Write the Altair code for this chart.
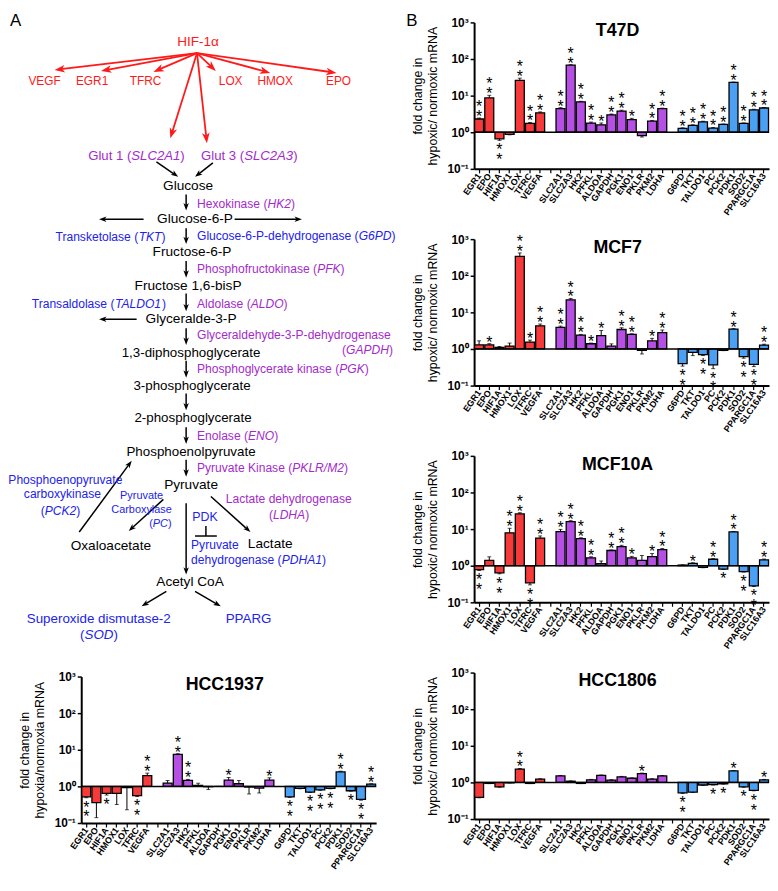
import math
import altair as alt
import pandas as pd

FONT = "Liberation Sans"

# ---------------- data ----------------
genes_red = ["EGR1", "EPO", "HIF1A", "HMOX1", "LOX", "TFRC", "VEGFA"]
genes_purple = ["SLC2A1", "SLC2A3", "HK2", "PFKL", "ALDOA", "GAPDH", "PGK1", "ENO1", "PKLR", "PKM2", "LDHA"]
genes_blue = ["G6PD", "TKT", "TALDO1", "PC", "PCK2", "PDK1", "SOD2", "PPARGC1A", "SLC16A3"]
slots = genes_red + ["_g1"] + genes_purple + ["_g2"] + genes_blue

t47d_val = [2.3, 8.7, 0.66, 0.87, 26, 1.75, 3.4, 4.4, 68, 6.8, 1.78, 1.6, 3.0, 3.8, 2.2, 0.81, 2.0, 4.4,
            1.28, 1.54, 1.93, 1.3, 1.64, 23, 1.75, 4.1, 4.6]
t47d_err = [2.45, 10.2, 0.6, 0.85, 30, 1.85, 3.6, 4.7, 70, 7.0, 1.9, 1.8, 3.15, 4.0, 2.4, 0.74, 2.1, 4.55,
            1.32, 1.6, 2.0, 1.35, 1.68, 23.5, 1.8, 4.25, 4.75]
t47d_sig = ["**", "**", "**", "", "**", "**", "**", "**", "**", "**", "**", "*", "**", "**", "*", "", "**", "**",
            "**", "**", "**", "**", "**", "**", "**", "**", "**"]

mcf7_val = [1.3, 1.3, 1.1, 1.2, 340, 1.54, 4.3, 3.9, 22, 2.4, 1.39, 2.3, 1.2, 3.4, 2.5, 0.92, 1.67, 2.8,
            0.40, 0.81, 0.70, 0.37, 0.92, 3.5, 0.62, 0.38, 1.28]
mcf7_err = [1.67, 1.4, 1.17, 1.45, 420, 1.75, 4.8, 4.2, 24, 2.5, 1.45, 3.2, 1.38, 3.8, 2.6, 0.73, 1.95, 3.3,
            0.34, 0.66, 0.66, 0.29, 0.9, 3.6, 0.56, 0.33, 1.35]
mcf7_sig = ["", "*", "", "", "**", "*", "**", "**", "**", "**", "*", "*", "", "**", "**", "", "*", "**",
            "**", "", "**", "**", "", "**", "**", "**", "**"]

mcf10a_val = [0.78, 1.39, 0.64, 7.9, 26, 0.34, 5.7, 8.5, 16, 5.5, 1.64, 1.13, 2.6, 3.3, 1.64, 1.39, 1.78, 2.75,
              1.04, 1.15, 0.9, 1.5, 0.81, 8.4, 0.69, 0.28, 1.45]
mcf10a_err = [0.74, 1.75, 0.6, 10.5, 28, 0.3, 6.5, 9.8, 17, 5.8, 1.75, 1.35, 2.7, 3.6, 1.8, 1.9, 2.15, 2.95,
              1.06, 1.2, 0.88, 1.56, 0.79, 8.6, 0.67, 0.27, 1.52]
mcf10a_sig = ["**", "", "**", "**", "**", "**", "**", "**", "**", "**", "**", "", "**", "**", "*", "", "*", "**",
              "", "*", "", "**", "*", "**", "**", "**", "**"]

hcc1806_val = [0.39, 0.94, 0.76, 0.98, 2.3, 0.94, 1.23, 1.5, 1.08, 0.94, 1.18, 1.55, 1.16, 1.42, 1.3, 1.75, 1.23, 1.5,
               0.52, 0.54, 0.85, 0.87, 0.92, 2.07, 0.76, 0.61, 1.18]
hcc1806_err = [0.38, 0.93, 0.74, 0.97, 2.4, 0.93, 1.26, 1.55, 1.1, 0.93, 1.21, 1.6, 1.19, 1.46, 1.33, 1.8, 1.26, 1.54,
               0.5, 0.53, 0.83, 0.85, 0.9, 2.12, 0.74, 0.59, 1.21]
hcc1806_sig = ["", "", "", "", "**", "", "", "", "", "", "", "", "", "", "", "*", "", "",
               "**", "", "", "*", "*", "*", "*", "**", "*"]

hcc1937_val = [0.52, 0.36, 0.64, 0.64, 0.92, 0.56, 1.97, 1.23, 7.5, 1.45, 1.06, 0.98, 1.0, 1.48, 1.18, 0.96, 0.9, 1.48,
               0.52, 0.88, 0.70, 0.80, 0.88, 2.5, 0.76, 0.44, 1.15]
hcc1937_err = [0.49, 0.14, 0.58, 0.32, 0.23, 0.53, 2.3, 1.45, 7.8, 1.55, 1.22, 0.82, 1.0, 1.75, 1.45, 0.62, 0.66, 1.72,
               0.5, 0.86, 0.68, 0.78, 0.86, 2.6, 0.74, 0.42, 1.18]
hcc1937_sig = ["**", "", "*", "", "", "**", "**", "", "**", "**", "", "", "", "*", "", "", "", "*",
               "**", "", "**", "**", "**", "**", "*", "**", "**"]

BAR_COLORS = ["#F63A3A", "#B64FE4", "#4BA0F3"]

# ---------------- pathway diagram content ----------------
DCOL = {"k": "#000000", "r": "#FF1A1A", "p": "#A32BCB", "b": "#2222EE"}

# (x, y, align, font size, colour, [(text, italic)])
diagram_labels = [
    (10, 17, "left", 17, "k", [("A", 0)]),
    (200, 38, "center", 13.7, "r", [("HIF-1α", 0)]),
    (45, 77, "center", 12, "r", [("VEGF", 0)]),
    (93, 77, "center", 12, "r", [("EGR1", 0)]),
    (147, 77, "center", 12, "r", [("TFRC", 0)]),
    (233, 77, "center", 12, "r", [("LOX", 0)]),
    (278, 77, "center", 12, "r", [("HMOX", 0)]),
    (342, 77, "center", 12, "r", [("EPO", 0)]),
    (89, 153, "left", 13.3, "p", [("Glut 1 (", 0), ("SLC2A1", 1), (")", 0)]),
    (203, 153, "left", 13.3, "p", [("Glut 3 (", 0), ("SLC2A3", 1), (")", 0)]),
    (190, 183, "center", 13.8, "k", [("Glucose", 0)]),
    (199, 202, "left", 12.2, "p", [("Hexokinase (", 0), ("HK2", 1), (")", 0)]),
    (197, 217, "center", 13.8, "k", [("Glucose-6-P", 0)]),
    (56, 235, "left", 12.2, "b", [("Transketolase (", 0), ("TKT", 1), (")", 0)]),
    (199, 234, "left", 12.2, "b", [("Glucose-6-P-dehydrogenase (", 0), ("G6PD", 1), (")", 0)]),
    (194, 250, "center", 13.8, "k", [("Fructose-6-P", 0)]),
    (199, 267, "left", 12.2, "p", [("Phosphofructokinase (", 0), ("PFK", 1), (")", 0)]),
    (190, 284, "center", 13.8, "k", [("Fructose 1,6-bisP", 0)]),
    (32, 303, "left", 12.2, "b", [("Transaldolase (", 0), ("TALDO1", 1), (")", 0)]),
    (199, 303, "left", 12.2, "p", [("Aldolase (", 0), ("ALDO", 1), (")", 0)]),
    (193, 318, "center", 13.8, "k", [("Glyceralde-3-P", 0)]),
    (199, 334, "left", 12.2, "p", [("Glyceraldehyde-3-P-dehydrogenase", 0)]),
    (397, 349, "right", 12.2, "p", [("(", 0), ("GAPDH", 1), (")", 0)]),
    (193, 352, "center", 13.5, "k", [("1,3-diphosphoglycerate", 0)]),
    (199, 368, "left", 12.2, "p", [("Phosphoglycerate kinase (", 0), ("PGK", 1), (")", 0)]),
    (194, 385, "center", 13.5, "k", [("3-phosphoglycerate", 0)]),
    (195, 418, "center", 13.5, "k", [("2-phosphoglycerate", 0)]),
    (199, 436, "left", 12.2, "p", [("Enolase (", 0), ("ENO", 1), (")", 0)]),
    (193, 452, "center", 13.5, "k", [("Phosphoenolpyruvate", 0)]),
    (199, 468, "left", 12.2, "p", [("Pyruvate Kinase (", 0), ("PKLR/M2", 1), (")", 0)]),
    (193, 485, "center", 13.8, "k", [("Pyruvate", 0)]),
    (66, 480, "center", 12.2, "b", [("Phosphoenopyruvate", 0)]),
    (63, 495, "center", 12.2, "b", [("carboxykinase", 0)]),
    (61, 512, "center", 12.2, "b", [("(", 0), ("PCK2", 1), (")", 0)]),
    (143, 497, "center", 11, "b", [("Pyruvate", 0)]),
    (143, 511, "center", 11, "b", [("Carboxylase", 0)]),
    (162, 525, "center", 11, "b", [("(", 0), ("PC", 1), (")", 0)]),
    (112, 547, "center", 13.8, "k", [("Oxaloacetate", 0)]),
    (228, 500, "left", 12.2, "p", [("Lactate dehydrogenase", 0)]),
    (292, 516, "center", 12.2, "p", [("(", 0), ("LDHA", 1), (")", 0)]),
    (273, 545, "center", 13.8, "k", [("Lactate", 0)]),
    (207, 518, "center", 12.5, "b", [("PDK", 0)]),
    (193, 546, "left", 12.2, "b", [("Pyruvate", 0)]),
    (193, 561, "left", 12.2, "b", [("dehydrogenase (", 0), ("PDHA1", 1), (")", 0)]),
    (192, 584, "center", 13.8, "k", [("Acetyl CoA", 0)]),
    (27, 621, "left", 13.5, "b", [("Superoxide dismutase-2", 0)]),
    (100, 637, "center", 13.5, "b", [("(", 0), ("SOD", 1), (")", 0)]),
    (228, 621, "left", 13.5, "b", [("PPARG", 0)]),
]

# (x1, y1, x2, y2, colour, width, head)
diagram_arrows = [
    (199, 49, 55, 66, "r", 1.8, 1), (199, 49, 102, 67, "r", 1.8, 1), (199, 49, 155, 68, "r", 1.8, 1),
    (199, 49, 218, 67, "r", 1.8, 1), (199, 49, 273, 69, "r", 1.8, 1), (199, 49, 340, 69, "r", 1.8, 1),
    (199, 49, 172, 135, "r", 1.8, 1), (199, 49, 209, 140, "r", 1.8, 1),
    (158, 159, 180, 174, "k", 1.5, 1), (215, 160, 197, 174, "k", 1.5, 1),
    (188, 192, 188, 208, "k", 1.5, 1),
    (145, 217, 100, 217, "k", 1.5, 1), (237, 217, 305, 217, "k", 1.5, 1),
    (188, 226, 188, 242, "k", 1.5, 1),
    (188, 259, 188, 276, "k", 1.5, 1),
    (188, 292, 188, 310, "k", 1.5, 1),
    (138, 318, 100, 318, "k", 1.5, 1),
    (188, 327, 188, 344, "k", 1.5, 1),
    (188, 360, 188, 377, "k", 1.5, 1),
    (188, 393, 188, 410, "k", 1.5, 1),
    (188, 427, 188, 444, "k", 1.5, 1),
    (188, 460, 188, 477, "k", 1.5, 1),
    (80, 533, 133, 461, "k", 1.5, 1),
    (165, 500, 130, 532, "k", 1.5, 1),
    (213, 497, 253, 533, "k", 1.5, 1),
    (188, 504, 188, 576, "k", 1.5, 1),
    (168, 593, 143, 608, "k", 1.5, 1),
    (197, 593, 223, 608, "k", 1.5, 1),
    (208, 527, 208, 537, "k", 1.5, 0),
    (197, 537, 219, 537, "k", 1.5, 0),
]

# Arial / Liberation Sans advance widths (per 1000 em) for positioning mixed-style labels
AW = {" ": 278, "(": 333, ")": 333, "-": 333, ",": 278, ".": 278, "/": 278, "α": 578}
AW.update({d: 556 for d in "0123456789"})
AW.update(dict(zip("ABCDEFGHIJKLMNOPQRSTUVWXYZ",
                   [667, 667, 722, 722, 667, 611, 778, 722, 278, 500, 667, 556, 833, 722, 778, 667, 778, 722, 667,
                    611, 722, 667, 944, 667, 667, 611])))
AW.update(dict(zip("abcdefghijklmnopqrstuvwxyz",
                   [556, 556, 500, 556, 556, 278, 556, 556, 222, 222, 500, 222, 833, 556, 556, 556, 556, 333, 500,
                    278, 556, 500, 722, 500, 500, 500])))


def tw(s, size):
    return sum(AW.get(ch, 556) for ch in s) * size / 1000.0


text_rows = []
for (x, y, align, size, col, segs) in diagram_labels:
    total = sum(tw(t, size) for t, _ in segs)
    cur = x if align == "left" else (x - total / 2 if align == "center" else x - total)
    for t, it in segs:
        text_rows.append({"x": cur, "y": y, "t": t, "s": size, "c": DCOL[col], "it": it})
        cur += tw(t, size)
df_text = pd.DataFrame(text_rows)

line_rows, head_rows = [], []
for (x1, y1, x2, y2, col, w, head) in diagram_arrows:
    dx, dy = x2 - x1, y2 - y1
    L = math.hypot(dx, dy)
    ux, uy = dx / L, dy / L
    r = 7.0 if col == "r" else 5.0
    back = 0.9 * r if head else 0.0
    line_rows.append({"x": x1, "y": y1, "x2": x2 - ux * back, "y2": y2 - uy * back, "c": DCOL[col], "w": w})
    if head:
        ang = math.degrees(math.atan2(dx, -dy)) % 360
        head_rows.append({"x": x2, "y": y2, "a": ang, "c": DCOL[col], "s": (2 * r) ** 2})
df_lines = pd.DataFrame(line_rows)
df_heads = pd.DataFrame(head_rows)

DW, DH = 372, 640
Y0 = 18  # page y of the diagram's top edge (row is aligned with the right column)
dxs = alt.Scale(domain=[8, 8 + DW], nice=False, zero=False)
dys = alt.Scale(domain=[Y0, Y0 + DH], nice=False, zero=False, reverse=True)
ARROW = "M0,0L-0.55,1.5L0,1.1L0.55,1.5Z"

d_lines = alt.Chart(df_lines).mark_rule().encode(
    x=alt.X("x:Q", scale=dxs, axis=None), y=alt.Y("y:Q", scale=dys, axis=None),
    x2="x2:Q", y2="y2:Q",
    color=alt.Color("c:N", scale=None), size=alt.Size("w:Q", scale=None))
d_heads = alt.Chart(df_heads).mark_point(filled=True, opacity=1, shape=ARROW, strokeWidth=0).encode(
    x=alt.X("x:Q", scale=dxs, axis=None), y=alt.Y("y:Q", scale=dys, axis=None),
    angle=alt.Angle("a:Q", scale=None),
    color=alt.Color("c:N", scale=None), size=alt.Size("s:Q", scale=None))
d_text = alt.Chart(df_text).transform_filter("datum.it == 0").mark_text(align="left", baseline="middle").encode(
    x=alt.X("x:Q", scale=dxs, axis=None), y=alt.Y("y:Q", scale=dys, axis=None),
    text="t:N", color=alt.Color("c:N", scale=None), size=alt.Size("s:Q", scale=None))
d_ital = alt.Chart(df_text).transform_filter("datum.it == 1").mark_text(
    align="left", baseline="middle", fontStyle="italic").encode(
    x=alt.X("x:Q", scale=dxs, axis=None), y=alt.Y("y:Q", scale=dys, axis=None),
    text="t:N", color=alt.Color("c:N", scale=None), size=alt.Size("s:Q", scale=None))
diagram = alt.layer(d_lines, d_heads, d_text, d_ital).properties(width=DW, height=DH)

# ---------------- bar panels ----------------
PW, PH = 298, 148
YLAB = ("datum.value < 0.5 ? '10⁻¹' : datum.value < 5 ? '10⁰' : datum.value < 50 ? '10¹' : "
        "datum.value < 500 ? '10²' : '10³'")


def panel(name, vals, errs, sigs, ytitle, with_b=False):
    grp = ["red"] * len(genes_red) + ["purple"] * len(genes_purple) + ["blue"] * len(genes_blue)
    df = pd.DataFrame({"gene": genes_red + genes_purple + genes_blue, "value": vals, "err": errs,
                       "sig": sigs, "grp": grp})
    df["n"] = [len(s) for s in sigs]
    xs = alt.Scale(domain=slots, paddingInner=0.12, paddingOuter=0.05)
    xa = alt.Axis(title=None, labelAngle=305, labelAlign="right", labelBaseline="middle",
                  labelFontSize=9, labelFontWeight="bold", labelOverlap=False,
                  labelExpr="slice(datum.value, 0, 1) == '_' ? '' : datum.value",
                  tickSize=4, tickWidth=1.2, domainWidth=2, labelPadding=1)
    ys = alt.Scale(type="log", domain=[0.1, 1000], nice=False)
    ya = alt.Axis(values=[0.1, 1, 10, 100, 1000], labelExpr=YLAB, title=ytitle, titleFontWeight="normal",
                  titleFontSize=12.5, titlePadding=8, labelFontSize=12, labelFontWeight="bold",
                  tickSize=4, tickWidth=1.5, domainWidth=2, grid=False, labelPadding=2)

    def X():
        return alt.X("gene:N", scale=xs, axis=xa)

    def Y(f):
        return alt.Y(f + ":Q", scale=ys, axis=ya)

    bars = alt.Chart(df).mark_bar(stroke="black", strokeWidth=1.3).encode(
        x=X(), y=Y("value"), y2=alt.datum(1),
        color=alt.Color("grp:N", scale=alt.Scale(domain=["red", "purple", "blue"], range=BAR_COLORS),
                        legend=None))
    ebar = alt.Chart(df).mark_rule(color="black", strokeWidth=1).encode(x=X(), y=Y("value"), y2="err:Q")
    caps = alt.Chart(df).mark_tick(color="black", thickness=1, size=4).encode(x=X(), y=Y("err"))
    base = alt.Chart(pd.DataFrame({"v": [1]})).mark_rule(color="black", strokeWidth=1.5).encode(y=alt.datum(1))
    star = dict(fontSize=16, text="*")
    up1 = alt.Chart(df).transform_filter("datum.n >= 1 && datum.value >= 1").mark_text(
        baseline="bottom", dy=7, **star).encode(x=X(), y=Y("err"))
    up2 = alt.Chart(df).transform_filter("datum.n >= 2 && datum.value >= 1").mark_text(
        baseline="bottom", dy=-3, **star).encode(x=X(), y=Y("err"))
    dn1 = alt.Chart(df).transform_filter("datum.n >= 1 && datum.value < 1").mark_text(
        baseline="top", dy=2, **star).encode(x=X(), y=Y("err"))
    dn2 = alt.Chart(df).transform_filter("datum.n >= 2 && datum.value < 1").mark_text(
        baseline="top", dy=12, **star).encode(x=X(), y=Y("err"))
    title = alt.Chart(pd.DataFrame({"t": [name]})).mark_text(
        fontSize=18, fontWeight="bold", baseline="alphabetic", align="center").encode(
        text="t:N", x=alt.value(145), y=alt.value(14))
    layers = [bars, ebar, caps, base, up1, up2, dn1, dn2, title]
    if with_b:
        layers.append(alt.Chart(pd.DataFrame({"t": ["B"]})).mark_text(
            fontSize=17, baseline="middle", align="center").encode(
            text="t:N", x=alt.value(-63), y=alt.value(-1)))
    return alt.layer(*layers).properties(width=PW, height=PH)


yt_a = ["fold change in", "hypoxic/ normoxic mRNA"]
yt_b = ["fold change in", "hypoxia/normoxia mRNA"]

p_t47d = panel("T47D", t47d_val, t47d_err, t47d_sig, yt_a, with_b=True)
p_mcf7 = panel("MCF7", mcf7_val, mcf7_err, mcf7_sig, yt_a)
p_mcf10a = panel("MCF10A", mcf10a_val, mcf10a_err, mcf10a_sig, yt_a)
p_hcc1806 = panel("HCC1806", hcc1806_val, hcc1806_err, hcc1806_sig, yt_a)
p_hcc1937 = panel("HCC1937", hcc1937_val, hcc1937_err, hcc1937_sig, yt_b)

one = pd.DataFrame({"a": [0]})
spacer_left = alt.Chart(one).mark_point(opacity=0).encode(
    x=alt.value(37), y=alt.value(70)).properties(width=74, height=PH)

hrow = alt.hconcat(spacer_left, p_hcc1937, spacing=0, bounds="flush")
left = alt.vconcat(diagram, hrow, spacing=15)
right = alt.vconcat(p_t47d, p_mcf7, p_mcf10a, p_hcc1806, spacing=71, bounds="flush")

chart = alt.hconcat(left, right, spacing=10).properties(padding=0).configure_view(
    stroke=None).configure_axis(
    domainColor="black", tickColor="black", labelColor="black", titleColor="black",
    labelFont=FONT, titleFont=FONT).configure_text(font=FONT)

chart.save("out.html", embed_options={"renderer": "svg", "actions": False})
